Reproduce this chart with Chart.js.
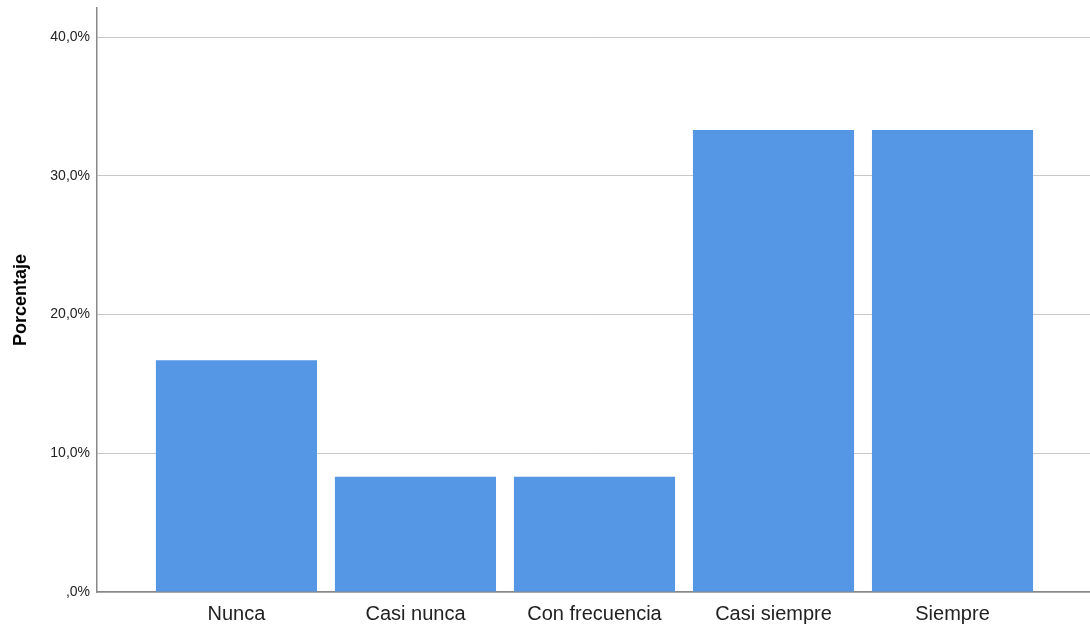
<!DOCTYPE html>
<html>
<head>
<meta charset="utf-8">
<script src="https://cdn.jsdelivr.net/npm/chart.js@4"></script>
<style>
  html, body { margin: 0; padding: 0; background: #fff; }
  #wrap { width: 1090px; height: 628px; }
</style>
</head>
<body>
<div id="wrap"><canvas id="grafico"></canvas></div>
<script>
// datos
const categorias = ['Nunca', 'Casi nunca', 'Con frecuencia', 'Casi siempre', 'Siempre'];
const porcentajes = [16.7, 8.3, 8.3, 33.3, 33.3];
const ticksY = [0, 10, 20, 30, 40];

const formatoPct = (v) => v === 0 ? ',0%' : v.toFixed(1).replace('.', ',') + '%';

var ctx = document.getElementById('grafico').getContext('2d');
var grafico = new Chart(ctx, {
    type: 'bar',
    data: {
        datasets: [{
            label: 'Porcentaje',
            data: categorias.map((c, i) => ({ x: i, y: porcentajes[i] })),
            backgroundColor: '#5596e5',
            borderWidth: 0,
            categoryPercentage: 1,
            barPercentage: 0.9
        }]
    },
    options: {
        responsive: true,
        maintainAspectRatio: false,
        animation: false,
        layout: { padding: { top: 8, right: 0, left: 0, bottom: 0 } },
        plugins: {
            legend: { display: false },
            tooltip: { enabled: false }
        },
        scales: {
            x: {
                type: 'linear',
                offset: false,
                min: -0.779,
                max: 4.768,
                grid: { display: false },
                border: { display: true, color: '#888888', width: 1.5 },
                afterBuildTicks: (scale) => {
                    scale.ticks = categorias.map((c, i) => ({ value: i }));
                },
                afterFit: (scale) => {
                    scale.height = 36;
                    scale.paddingLeft = 0;
                    scale.paddingRight = 0;
                },
                ticks: {
                    autoSkip: false,
                    maxRotation: 0,
                    padding: 2,
                    color: '#222222',
                    font: { family: 'Liberation Sans, Arial, sans-serif', size: 20 },
                    callback: (v) => categorias[v]
                }
            },
            y: {
                min: 0,
                max: 42.1,
                grid: { color: '#c8c8c8', lineWidth: 1, drawTicks: false },
                border: { display: true, color: '#888888', width: 1.5 },
                afterBuildTicks: (scale) => {
                    scale.ticks = ticksY.map(v => ({ value: v }));
                },
                afterFit: (scale) => {
                    scale.width = 97;
                    scale.paddingTop = 0;
                    scale.paddingBottom = 0;
                },
                title: {
                    display: true,
                    text: 'Porcentaje',
                    color: '#000000',
                    font: { family: 'Liberation Sans, Arial, sans-serif', size: 18, weight: 'bold' },
                    padding: { top: 10, bottom: 0 }
                },
                ticks: {
                    padding: 7,
                    color: '#222222',
                    font: { family: 'Liberation Sans, Arial, sans-serif', size: 14 },
                    callback: (v) => formatoPct(v)
                }
            }
        }
    }
});
</script>
</body>
</html>
